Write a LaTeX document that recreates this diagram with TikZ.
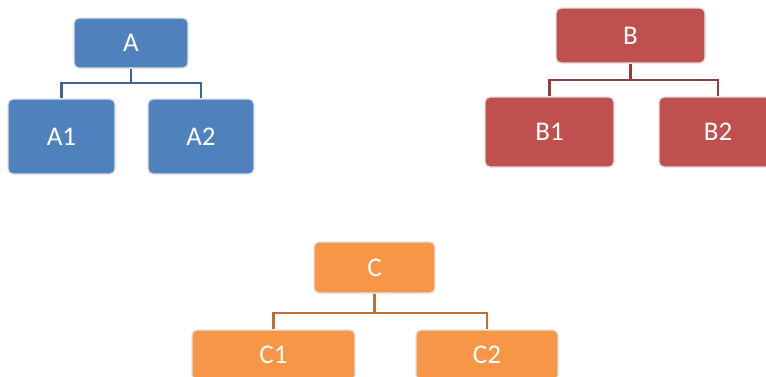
\documentclass[tikz,border=0pt]{standalone}
\usepackage{fontspec}
\setmainfont{Carlito}
\usepackage{xcolor}
\usepackage{tikz}
\usetikzlibrary{positioning, calc}
\definecolor{boxblue}{RGB}{79, 129, 189}
\definecolor{boxred}{RGB}{192, 80, 77}
\definecolor{boxorange}{RGB}{247, 150, 70}
\definecolor{linkblue}{RGB}{61, 100, 148}
\definecolor{linkred}{RGB}{150, 60, 58}
\definecolor{linkorange}{RGB}{186, 114, 52}
\definecolor{rimgray}{RGB}{226, 226, 226}

\begin{document}
\begin{tikzpicture}[
    x=1pt, y=-1pt,
    orgbox/.style={
        rectangle,
        rounded corners=5pt,
        draw=rimgray,
        line width=1.3pt,
        inner sep=0pt,
        text=white,
        font=\fontsize{27}{31}\selectfont
    },
    bluebox/.style={orgbox, fill=boxblue},
    redbox/.style={orgbox, fill=boxred},
    orangebox/.style={orgbox, fill=boxorange},
    orglink/.style={line width=2.3pt}
]
    \useasboundingbox (0, 0) rectangle (766, 376);

    % Tree A
    \node[bluebox, minimum width=114pt, minimum height=50pt] (A) at (131, 43) {A};
    \node[bluebox, minimum width=107pt, minimum height=75pt] (A1) at (61.5, 136.5) {A1};
    \node[bluebox, minimum width=106pt, minimum height=75pt] (A2) at (201, 136.5) {A2};
    \draw[orglink, linkblue] (A.south) -- ++(0, 14) -| (A1.north);
    \draw[orglink, linkblue] (A.south) -- ++(0, 14) -| (A2.north);

    % Tree B
    \node[redbox, minimum width=149pt, minimum height=55pt] (B) at (630.5, 35.5) {B};
    \node[redbox, minimum width=129pt, minimum height=70pt] (B1) at (549.5, 132) {B1};
    \node[redbox, minimum width=118pt, minimum height=70pt] (B2) at (718, 132) {B2};
    \draw[orglink, linkred] (B.south) -- ++(0, 16) -| (B1.north);
    \draw[orglink, linkred] (B.south) -- ++(0, 16) -| (B2.north);

    % Tree C
    \node[orangebox, minimum width=121pt, minimum height=51pt] (C) at (374.5, 267.5) {C};
    \node[orangebox, minimum width=163pt, minimum height=50pt] (C1) at (273.5, 355) {C1};
    \node[orangebox, minimum width=142pt, minimum height=50pt] (C2) at (487, 355) {C2};
    \draw[orglink, linkorange] (C.south) -- ++(0, 19) -| (C1.north);
    \draw[orglink, linkorange] (C.south) -- ++(0, 19) -| (C2.north);
\end{tikzpicture}
\end{document}
